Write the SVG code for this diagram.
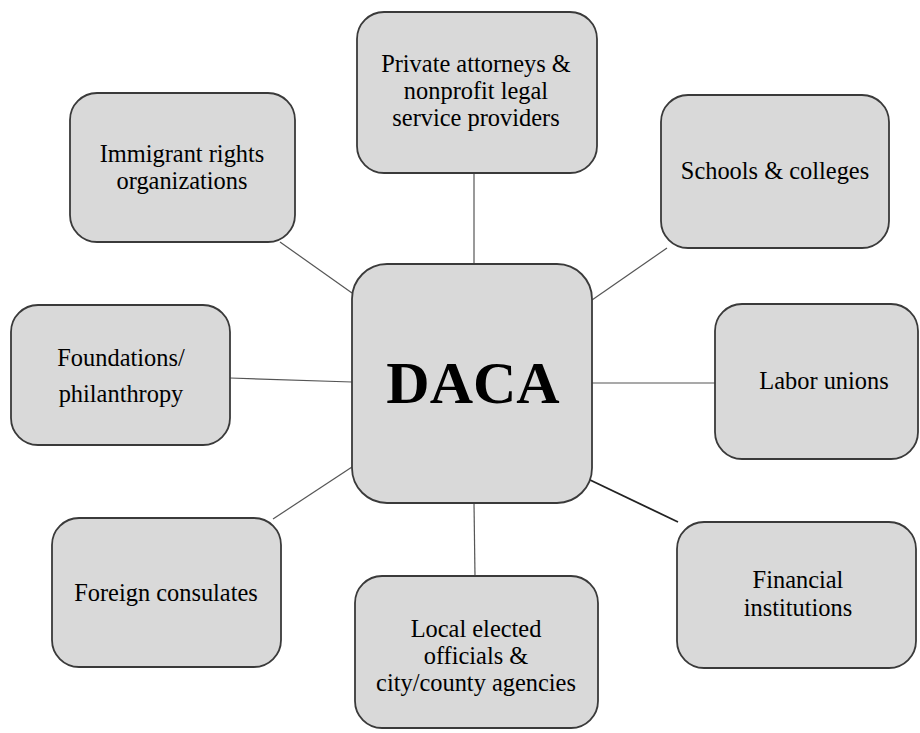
<svg xmlns="http://www.w3.org/2000/svg" width="920" height="733" viewBox="0 0 920 733">
<style>
.box{fill:#d9d9d9;stroke:#3a3a3a;stroke-width:1.8}
.t{font-family:"Liberation Serif","Times New Roman",serif;font-size:24.4px;fill:#000;text-anchor:middle}
.c{stroke:#555;stroke-width:1.2;fill:none}
</style>
<rect width="920" height="733" fill="#fff"/>
<g id="connectors">
<line class="c" x1="474" y1="173" x2="474" y2="264"/>
<line class="c" x1="280" y1="242" x2="352" y2="293"/>
<line class="c" x1="667" y1="248" x2="592" y2="300"/>
<line class="c" x1="230" y1="378" x2="352" y2="382"/>
<line class="c" x1="592" y1="383" x2="715" y2="383"/>
<line class="c" x1="273" y1="519" x2="352" y2="467"/>
<line class="c" x1="474" y1="503" x2="475" y2="576"/>
<line x1="588" y1="479" x2="678" y2="522" stroke="#222" stroke-width="1.8"/>
</g>
<g id="daca">
<rect class="box" x="352" y="264" width="240" height="239" rx="35"/>
<text x="473" y="403" font-family="Liberation Serif,'Times New Roman',serif" font-size="60" font-weight="bold" text-anchor="middle" fill="#000">DACA</text>
</g>
<g id="private">
<rect class="box" x="357" y="12" width="240" height="161" rx="27"/>
<text class="t" x="476" y="72">Private attorneys &amp;</text>
<text class="t" x="476" y="99">nonprofit legal</text>
<text class="t" x="476" y="126">service providers</text>
</g>
<g id="immigrant">
<rect class="box" x="70" y="93" width="225" height="149" rx="27"/>
<text class="t" x="182" y="162">Immigrant rights</text>
<text class="t" x="182" y="189">organizations</text>
</g>
<g id="schools">
<rect class="box" x="661" y="95" width="228" height="153" rx="27"/>
<text class="t" x="775" y="179">Schools &amp; colleges</text>
</g>
<g id="foundations">
<rect class="box" x="11" y="305" width="219" height="140" rx="27"/>
<text class="t" x="121" y="366">Foundations/</text>
<text class="t" x="121" y="402">philanthropy</text>
</g>
<g id="labor">
<rect class="box" x="715" y="304" width="203" height="155" rx="27"/>
<text class="t" x="824" y="389">Labor unions</text>
</g>
<g id="foreign">
<rect class="box" x="52" y="518" width="229" height="149" rx="27"/>
<text class="t" x="166" y="601">Foreign consulates</text>
</g>
<g id="local">
<rect class="box" x="355" y="576" width="243" height="152" rx="27"/>
<text class="t" x="476" y="637">Local elected</text>
<text class="t" x="476" y="664">officials &amp;</text>
<text class="t" x="476" y="691">city/county agencies</text>
</g>
<g id="financial">
<rect class="box" x="677" y="522" width="239" height="146" rx="27"/>
<text class="t" x="798" y="588">Financial</text>
<text class="t" x="798" y="616">institutions</text>
</g>
</svg>
